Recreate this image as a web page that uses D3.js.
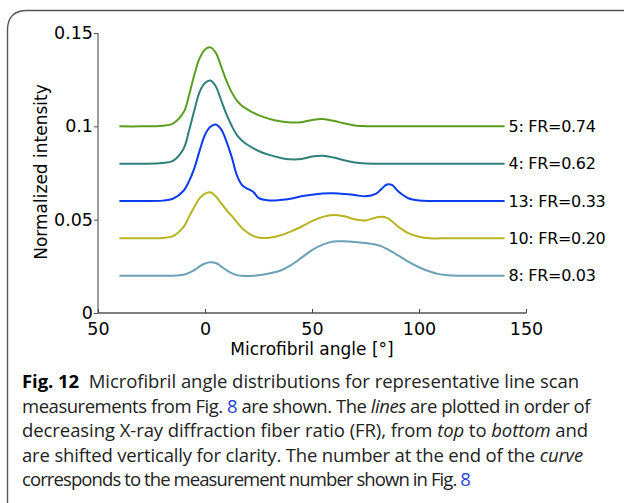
<!DOCTYPE html>
<html>
<head>
<meta charset="utf-8">
<script src="https://cdn.jsdelivr.net/npm/d3@7"></script>
<style>
  body { margin: 0; background: #fff; }
  svg { display: block; }
</style>
</head>
<body>
<div id="chart"></div>
<script>
// angles (deg) shared by every curve
var angles = [-40, -30, -20, -15, -10, -7.5, -5, -2.5, 0, 2.5, 5, 7.5, 10, 12.5, 15, 17.5, 20, 22.5, 25,
  30, 35, 40, 45, 50, 55, 60, 65, 70, 75, 80, 82.5, 85, 87.5, 90, 92.5, 95, 100, 105, 110, 115, 120, 130, 140];

// curves, already shifted vertically as in the figure
var m5 = [0.1, 0.1, 0.1003, 0.1015, 0.1075, 0.1165, 0.1275, 0.1365, 0.1412, 0.1423, 0.1395, 0.1322, 0.1245, 0.1182, 0.1137, 0.1108, 0.109, 0.1073, 0.106,
  0.104, 0.1027, 0.1021, 0.1022, 0.1034, 0.1039, 0.103, 0.1016, 0.1005, 0.1001, 0.1, 0.1, 0.1, 0.1, 0.1, 0.1, 0.1, 0.1, 0.1, 0.1, 0.1, 0.1, 0.1, 0.1];
var m4 = [0.08, 0.08, 0.0803, 0.0815, 0.088, 0.0975, 0.1085, 0.1185, 0.1232, 0.1245, 0.1215, 0.1141, 0.1065, 0.1002, 0.0952, 0.0922, 0.09, 0.0883, 0.0868,
  0.0847, 0.0832, 0.0823, 0.0825, 0.0838, 0.0842, 0.0833, 0.0818, 0.0806, 0.0801, 0.08, 0.08, 0.08, 0.08, 0.08, 0.08, 0.08, 0.08, 0.08, 0.08, 0.08, 0.08, 0.08, 0.08];
var m13 = [0.06, 0.06, 0.0602, 0.0612, 0.0655, 0.0705, 0.0775, 0.087, 0.0955, 0.0998, 0.101, 0.0985, 0.092, 0.0835, 0.0735, 0.0683, 0.0665, 0.065, 0.0617,
  0.0603, 0.0605, 0.0612, 0.0625, 0.0634, 0.064, 0.0641, 0.0638, 0.0632, 0.0625, 0.064, 0.0665, 0.0688, 0.0685, 0.0655, 0.0632, 0.0615, 0.0603, 0.06, 0.06, 0.06, 0.06, 0.06, 0.06];
var m10 = [0.04, 0.04, 0.0402, 0.0412, 0.0462, 0.0515, 0.0568, 0.0615, 0.064, 0.0647, 0.0625, 0.0589, 0.0553, 0.052, 0.0485, 0.0452, 0.043, 0.0413, 0.0405,
  0.0403, 0.0415, 0.0436, 0.0462, 0.0492, 0.0515, 0.0525, 0.0518, 0.0502, 0.0496, 0.0512, 0.0516, 0.051, 0.049, 0.0465, 0.0445, 0.0428, 0.0408, 0.04, 0.04, 0.04, 0.04, 0.04, 0.04];
var m8 = [0.02, 0.02, 0.02, 0.02, 0.0205, 0.0215, 0.023, 0.025, 0.0265, 0.0272, 0.0268, 0.025, 0.023, 0.0214, 0.0203, 0.0199, 0.0198, 0.0199, 0.0202,
  0.0212, 0.0226, 0.0255, 0.0295, 0.0337, 0.0366, 0.0383, 0.0384, 0.038, 0.0375, 0.0366, 0.0357, 0.0343, 0.0327, 0.031, 0.0293, 0.0275, 0.0245, 0.0222, 0.0207, 0.0201, 0.02, 0.02, 0.02];

var labels = ['5: FR=0.74', '4: FR=0.62', '13: FR=0.33', '10: FR=0.20', '8: FR=0.03'];
var colors = ['#5b9e1f', '#2f7f7b', '#0b3bef', '#b6b41f', '#6ba0b6'];
var xTicks = [-50, 0, 50, 100, 150];
var xTickLabels = ['50', '0', '50', '100', '150'];
var yTicks = [0, 0.05, 0.1, 0.15];
var yTickLabels = ['0', '0.05', '0.1', '0.15'];

var series = [m5, m4, m13, m10, m8];

var width = 624, height = 503;

var svg = d3.select('#chart')
            .append('svg')
            .attr('width', width)
            .attr('height', height);

// frame round the figure (open on the right and bottom)
svg.append('path')
   .attr('d', 'M7.5,503 L7.5,30 Q7.5,10.5 27,10.5 L624,10.5')
   .attr('fill', 'none')
   .attr('stroke', '#555')
   .attr('stroke-width', 1.4);

var x = d3.scaleLinear().domain([-50, 150]).range([98, 526]);
var y = d3.scaleLinear().domain([0, 0.15]).range([313, 33]);

// y axis
var yAxis = svg.append('g')
               .attr('transform', 'translate(98,0)')
               .call(d3.axisLeft(y)
                       .tickValues(yTicks)
                       .tickSize(4)
                       .tickPadding(1)
                       .tickFormat(function(d, i) { return yTickLabels[i]; }));
yAxis.select('.domain').attr('stroke', '#666').attr('stroke-width', 1.3)
     .attr('d', 'M0,' + y(0.15) + 'V' + y(0));
yAxis.selectAll('.tick line').attr('stroke', '#555');
yAxis.selectAll('.tick text')
     .attr('font-family', 'DejaVu Sans, sans-serif')
     .attr('font-size', 17.5)
     .attr('fill', '#000');

// x axis, ticks point inward
var xAxis = svg.append('g')
               .attr('transform', 'translate(0,313)')
               .call(d3.axisBottom(x)
                       .tickValues(xTicks)
                       .tickSize(-4)
                       .tickPadding(10)
                       .tickFormat(function(d, i) { return xTickLabels[i]; }));
xAxis.select('.domain').attr('stroke', '#000').attr('stroke-width', 1.2)
     .attr('d', 'M' + x(-50) + ',0H' + x(150));
xAxis.selectAll('.tick line').attr('stroke', '#444');
xAxis.selectAll('.tick text')
     .attr('font-family', 'DejaVu Sans, sans-serif')
     .attr('font-size', 17.5)
     .attr('fill', '#000');

// axis titles
svg.append('text')
   .attr('x', 312)
   .attr('y', 355)
   .attr('text-anchor', 'middle')
   .attr('font-family', 'DejaVu Sans, sans-serif')
   .attr('font-size', 17)
   .text('Microfibril angle [°]');

svg.append('text')
   .attr('transform', 'translate(47,172) rotate(-90)')
   .attr('text-anchor', 'middle')
   .attr('font-family', 'DejaVu Sans, sans-serif')
   .attr('font-size', 17)
   .text('Normalized intensity');

// curves
var line = d3.line()
             .x(function(d) { return x(d[0]); })
             .y(function(d) { return y(d[1]); })
             .curve(d3.curveCatmullRom.alpha(0.5));

series.forEach(function(vals, i) {
  var pts = angles.map(function(a, j) { return [a, vals[j]]; });
  svg.append('path')
     .attr('d', line(pts))
     .attr('fill', 'none')
     .attr('stroke', colors[i])
     .attr('stroke-width', 2);

  var last = pts[pts.length - 1];
  svg.append('text')
     .attr('x', x(last[0]) + 4)
     .attr('y', y(last[1]))
     .attr('dy', '0.36em')
     .attr('font-family', 'DejaVu Sans, sans-serif')
     .attr('font-size', 16)
     .attr('letter-spacing', -0.3)
     .text(labels[i]);
});

// caption
var caption = [
  [['Fig. 12', 'b'], ['  Microfibril angle distributions for representative line scan', '']],
  [['measurements from Fig. ', ''], ['8', 'l'], [' are shown. The ', ''], ['lines', 'i'], [' are plotted in order of', '']],
  [['decreasing X-ray diffraction fiber ratio (FR), from ', ''], ['top', 'i'], [' to ', ''], ['bottom', 'i'], [' and', '']],
  [['are shifted vertically for clarity. The number at the end of the ', ''], ['curve', 'i']],
  [['corresponds to the measurement number shown in Fig. ', ''], ['8', 'l']]
];
var captionWidths = [557, 568, 566, 561, 448];

caption.forEach(function(parts, i) {
  var t = svg.append('text')
             .attr('x', 22)
             .attr('y', 388 + i * 24.5)
             .attr('font-family', 'Open Sans, sans-serif')
             .attr('font-size', 18.5)
             .attr('fill', '#222')
             .attr('xml:space', 'preserve');
  var n = 0;
  parts.forEach(function(p) {
    var s = t.append('tspan').text(p[0]);
    n += p[0].length;
    if (p[1] == 'b') s.attr('font-weight', 'bold').attr('fill', '#000');
    if (p[1] == 'i') s.attr('font-style', 'italic');
    if (p[1] == 'l') s.attr('fill', '#2b3fd6');
  });
  // squeeze letters so the line keeps the width it has in the figure
  var w = t.node().getComputedTextLength();
  t.attr('letter-spacing', ((captionWidths[i] - w) / n).toFixed(3));
});
</script>
</body>
</html>
